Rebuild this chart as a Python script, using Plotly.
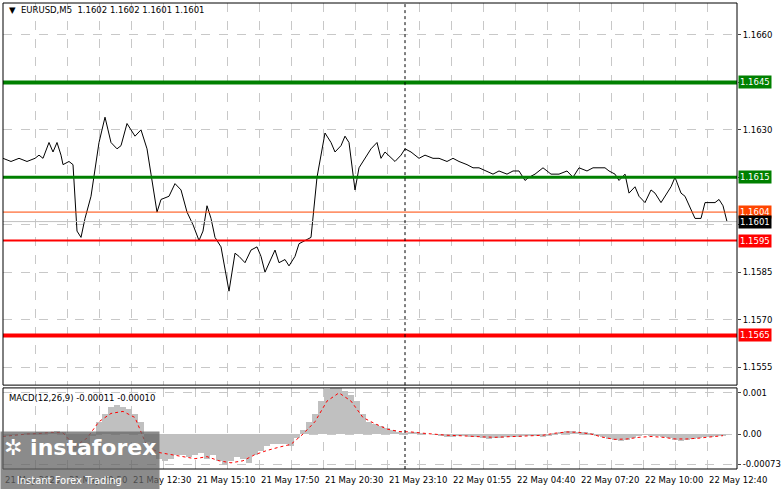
import plotly.graph_objects as go

# price path: bar index (M5 bars) and close
bar_idx = [0, 4, 8, 12, 16, 18, 20, 23, 25, 27, 29, 30, 33, 35, 37, 39, 41, 44, 48, 51, 54, 57, 59, 62, 64, 66, 69,
           72, 74, 77, 79, 83, 86, 89, 92, 95, 98, 100, 102, 104, 106, 109, 111, 113, 116, 118, 121, 124, 127, 129,
           131, 134, 136, 138, 141, 143, 146, 148, 151, 154, 157, 159, 161, 164, 166, 169, 171, 173, 176, 178, 181,
           184, 187, 189, 191, 194, 196, 199, 201, 204, 208, 211, 215, 218, 222, 225, 228, 232, 235, 238, 242, 245,
           248, 252, 255, 258, 261, 263, 266, 270, 274, 278, 282, 285, 288, 292, 295, 298, 301, 303, 306, 308, 311,
           313, 316, 318, 321, 324, 326, 329, 331, 334, 336, 339, 341, 344, 346, 349, 351, 353, 356, 358, 360, 362]
close = [1.1621, 1.1620, 1.1621, 1.1620, 1.1621, 1.1622, 1.1621, 1.1626, 1.1623, 1.1626, 1.1622, 1.1619, 1.1620,
         1.1619, 1.1598, 1.1596, 1.1602, 1.1609, 1.1626, 1.1634, 1.1626, 1.1624, 1.1625, 1.1632, 1.1630, 1.1628,
         1.1630, 1.1624, 1.1616, 1.1604, 1.1608, 1.1609, 1.1613, 1.1611, 1.1604, 1.1600, 1.1595, 1.1598, 1.1606,
         1.1602, 1.1596, 1.1593, 1.1586, 1.1579, 1.1591, 1.1590, 1.1588, 1.1592, 1.1593, 1.1590, 1.1585, 1.1589,
         1.1592, 1.1588, 1.1589, 1.1587, 1.1590, 1.1594, 1.1595, 1.1596, 1.1615, 1.1622, 1.1629, 1.1626, 1.1623,
         1.1625, 1.1628, 1.1626, 1.1611, 1.1618, 1.1621, 1.1624, 1.1626, 1.1621, 1.1623, 1.1621, 1.1620, 1.1622,
         1.1624, 1.1623, 1.1621, 1.1622, 1.1621, 1.1621, 1.1620, 1.1621, 1.1620, 1.1619, 1.1618, 1.1618, 1.1617,
         1.1616, 1.1617, 1.1616, 1.1617, 1.1617, 1.1614, 1.1615, 1.1616, 1.1618, 1.1616, 1.1616, 1.1617, 1.1615,
         1.1618, 1.1617, 1.1618, 1.1618, 1.1618, 1.1617, 1.1616, 1.1614, 1.1616, 1.1610, 1.1612, 1.1609, 1.1607,
         1.1611, 1.1610, 1.1607, 1.1609, 1.1612, 1.1615, 1.1610, 1.1609, 1.1605, 1.1602, 1.1602, 1.1607, 1.1607,
         1.1607, 1.1608, 1.1606, 1.1601]

# MACD histogram every 3 bars, in units of 1e-4
macd_hist = [-0.5, -0.4, -0.2, 0, 0.1, 0.3, 0.4, 0.5, 0.6, 0.8, 0.5, -1.5, -4, -5, -3, -0.5, 3, 5, 6.5, 7, 6.5, 6,
             5, 3, -2, -5, -6, -6.5, -6, -5, -5, -5.5, -5, -4.5, -6, -5, -6.5, -7.5, -6.5, -5.5, -6, -7, -5, -4,
             -3, -2.5, -2.5, -2.5, -3, -1, 1, 3, 5, 8, 11, 12.5, 11.5, 10.5, 9.5, 8, 5, 3, 2.5, 2, 1.5, 1, 0.5,
             0.3, 0.5, 0.5, 0.3, 0, -0.2, -0.4, -0.6, -0.6, -0.5, -0.5, -0.6, -0.8, -1, -1.1, -1, -0.9, -0.7,
             -0.6, -0.6, -0.5, -0.5, -0.5, -0.6, -0.3, 0.2, 0.6, 0.8, 0.8, 0.6, 0.4, 0.2, -0.3, -0.8, -1.2, -1.5,
             -1.7, -1.5, -1, -0.5, -0.2, -0.3, -0.4, -0.6, -1, -1.5, -1.7, -1.4, -1.2, -1.0, -0.8, -0.6, -0.4, -0.3]
# signal line every 6 bars, 1e-4
macd_signal = [-0.6, -0.3, 0, 0.1, 0.4, 0.3, -3, -1, 3, 5, 5.5, 4, -3, -4.5, -5, -5.5, -6, -5.5, -6.5, -7, -6.5,
               -5, -4, -3.2, -2.5, 0, 3, 8, 10, 8, 4, 2.5, 1.2, 0.6, 0.5, 0.2, -0.1, -0.3, -0.4, -0.6, -0.7, -0.8,
               -0.7, -0.5, -0.5, -0.3, 0.2, 0.5, 0.4, 0, -0.8, -1.3, -1.2, -0.8, -0.6, -0.8, -1.2, -1.2, -1.0, -0.7,
               -0.4]

levels = [1.1645, 1.1615, 1.1604, 1.1595, 1.1565]
level_colors = ["#008000", "#008000", "#ff4500", "#ff0000", "#ff0000"]
level_widths = [4, 3, 1, 2, 4]
price_ticks = [1.1555, 1.1570, 1.1585, 1.1600, 1.1615, 1.1630, 1.1645, 1.1660]
price_labels = ["1.1555", "1.1570", "1.1585", "", "", "1.1630", "", "1.1660"]
time_bars = [0, 32, 64, 96, 128, 160, 192, 224, 256, 288, 320, 352]
time_labels = ["21 May 2025", "21 May 09:50", "21 May 12:30", "21 May 15:10", "21 May 17:50", "21 May 20:30",
               "21 May 23:10", "22 May 01:55", "22 May 04:40", "22 May 07:20", "22 May 10:00", "22 May 12:40"]
last_price = 1.1601

font = dict(family="DejaVu Sans", size=8.5, color="black")
fig = go.Figure()
fig.add_trace(go.Bar(x=[i * 3 for i in range(len(macd_hist))], y=[v * 1e-4 for v in macd_hist],
                     marker_color="#c0c0c0", marker_line_width=0, width=3, yaxis="y2", xaxis="x2"))
fig.add_trace(go.Scatter(x=[i * 6 for i in range(len(macd_signal))], y=[v * 1e-4 for v in macd_signal],
                         mode="lines", line=dict(color="red", width=1, dash="dot"), yaxis="y2", xaxis="x2"))
fig.add_trace(go.Scatter(x=bar_idx, y=close, mode="lines", line=dict(color="black", width=1)))

shapes = []
for lv, c, w in zip(levels, level_colors, level_widths):
    shapes.append(dict(type="line", xref="x domain", yref="y", x0=0, x1=1, y0=lv, y1=lv, line=dict(color=c, width=w)))
shapes.append(dict(type="line", xref="x domain", yref="y", x0=0, x1=1, y0=last_price, y1=last_price,
                   line=dict(color="#c0c0c0", width=1)))
for xr, yr in [("x", "y"), ("x2", "y2")]:
    shapes.append(dict(type="line", xref=xr, yref=yr + " domain", x0=201, x1=201, y0=0, y1=1,
                       line=dict(color="black", width=1, dash="3px,3px")))
    shapes.append(dict(type="rect", xref=xr + " domain", yref=yr + " domain", x0=0, x1=1, y0=0, y1=1,
                       line=dict(color="black", width=1)))

anns = [dict(text="▼  EURUSD,M5  1.1602 1.1602 1.1601 1.1601", xref="paper", yref="paper", x=0.005, y=1.0,
             xanchor="left", yanchor="top", showarrow=False, font=font),
        dict(text="MACD(12,26,9) -0.00011 -0.00010", xref="paper", yref="paper", x=0.005, y=0.168,
             xanchor="left", yanchor="top", showarrow=False, font=font)]
label_bg = ["#008000", "#008000", "#ff4500", "#ff0000", "#ff0000"]
for lv, c in zip(levels, label_bg):
    anns.append(dict(text=f"{lv:.4f}", xref="paper", yref="y", x=1.002, y=lv, xanchor="left", showarrow=False,
                     bgcolor=c, font=dict(family="DejaVu Sans", size=8.5, color="white"), borderpad=1))
anns.append(dict(text=f"{last_price:.4f}", xref="paper", yref="y", x=1.002, y=last_price - 0.00002, xanchor="left",
                 showarrow=False, bgcolor="black", font=dict(family="DejaVu Sans", size=8.5, color="white"),
                 borderpad=1))
for tb, tl in zip(time_bars, time_labels):
    anns.append(dict(text=tl, xref="x2", yref="paper", x=tb, y=-0.008, xanchor="left", yanchor="top",
                     showarrow=False, font=font))
anns.append(dict(text="<b>✲ instaforex</b><br><span style='font-size:10px'>    Instant Forex Trading</span>",
                 xref="paper", yref="paper", x=-0.004, y=-0.045, xanchor="left", yanchor="bottom", showarrow=False,
                 align="left", bgcolor="rgba(100,100,100,0.75)", font=dict(family="DejaVu Sans", size=22,
                 color="white"), borderpad=3))

grid = dict(showgrid=True, gridcolor="#c8c8c8", griddash="dash", gridwidth=1, zeroline=False)
fig.update_layout(
    width=781, height=489, showlegend=False, plot_bgcolor="white", paper_bgcolor="white",
    margin=dict(l=3, r=44, t=3, b=20, autoexpand=False), bargap=0, font=font,
    xaxis=dict(range=[0, 367], domain=[0, 1], tickvals=list(range(16, 367, 16)), showticklabels=False, **grid),
    xaxis2=dict(range=[0, 367], domain=[0, 1], anchor="y2", tickvals=list(range(16, 367, 16)),
                showticklabels=False, **grid),
    yaxis=dict(range=[1.15493, 1.16701], domain=[0.18, 1], side="right", tickvals=price_ticks,
               ticktext=price_labels, ticks="outside", ticklen=3, automargin=False, **grid),
    yaxis2=dict(range=[-0.00085, 0.00112], domain=[0, 0.174], side="right", anchor="x2",
                tickvals=[-0.00073, 0, 0.001], ticktext=["-0.00073", "0.00", "0.001"], ticks="outside",
                ticklen=3, automargin=False, **grid),
    shapes=shapes, annotations=anns,
)
fig.write_html("out.html", config={"displayModeBar": False},
               post_script="document.body.style.margin='0';")
